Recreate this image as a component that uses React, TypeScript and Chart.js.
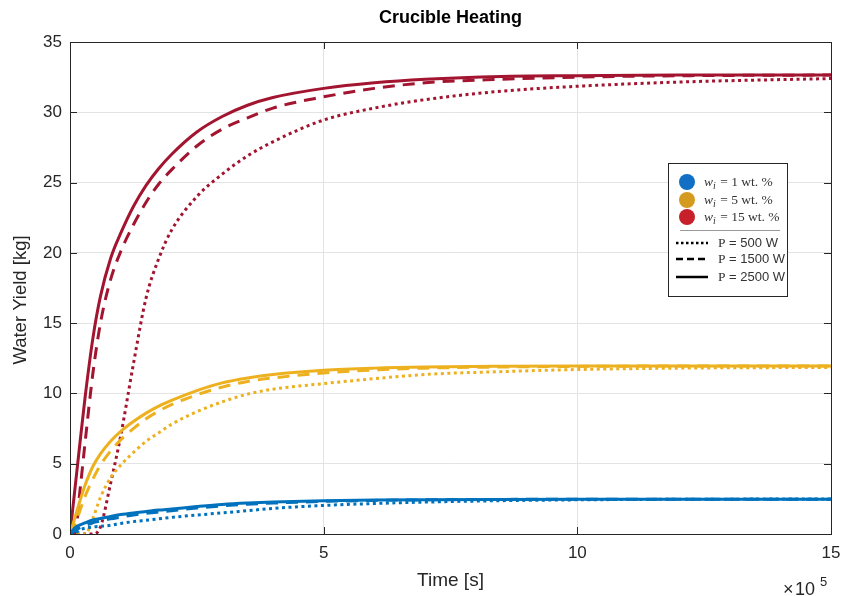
import React, { useEffect, useRef } from "react";
import { Chart, registerables } from "chart.js";

Chart.register(...registerables);

// Time in seconds
const TIME_S = [0, 10000, 20000, 30000, 45000, 60000, 80000, 100000, 125000, 150000, 175000, 200000, 250000, 300000, 350000, 400000, 500000, 600000, 700000, 850000, 1000000, 1200000, 1500000];

// Water yield [kg], 15 wt.%
const RED_2500 = [0, 3.3, 6.6, 9.8, 13.9, 16.9, 19.6, 21.4, 23.3, 24.8, 26.0, 27.0, 28.6, 29.7, 30.5, 31.05, 31.7, 32.1, 32.35, 32.55, 32.6, 32.65, 32.65];
const RED_1500 = [0, 0.1, 3.2, 6.6, 11.4, 15.0, 18.1, 20.1, 22.0, 23.6, 24.9, 25.9, 27.6, 28.8, 29.6, 30.3, 31.1, 31.7, 32.1, 32.35, 32.5, 32.6, 32.65];
const RED_500 = [0, 0, 0, 0, 0, 0.5, 3.6, 7.0, 12.1, 16.8, 19.6, 21.6, 24.0, 25.6, 26.9, 27.9, 29.45, 30.3, 30.9, 31.5, 31.85, 32.15, 32.4];

// 5 wt.%
const YEL_2500 = [0, 1.2, 2.4, 3.5, 4.8, 5.7, 6.6, 7.3, 8.0, 8.6, 9.1, 9.5, 10.2, 10.75, 11.1, 11.35, 11.65, 11.8, 11.88, 11.93, 11.95, 11.95, 11.95];
const YEL_1500 = [0, 0.7, 1.7, 2.7, 3.9, 4.9, 5.9, 6.7, 7.5, 8.2, 8.75, 9.2, 9.9, 10.45, 10.85, 11.1, 11.45, 11.67, 11.8, 11.88, 11.92, 11.95, 11.95];
const YEL_500 = [0, 0, 0, 0, 1.1, 2.6, 4.0, 4.9, 5.8, 6.6, 7.2, 7.8, 8.7, 9.4, 9.95, 10.3, 10.7, 11.05, 11.35, 11.55, 11.7, 11.8, 11.85];

// 1 wt.%
const BLU_2500 = [0, 0.45, 0.65, 0.8, 1.0, 1.1, 1.25, 1.38, 1.5, 1.6, 1.7, 1.78, 1.95, 2.1, 2.2, 2.27, 2.36, 2.41, 2.44, 2.46, 2.47, 2.48, 2.48];
const BLU_1500 = [0, 0.25, 0.45, 0.6, 0.8, 0.92, 1.08, 1.2, 1.35, 1.47, 1.57, 1.66, 1.85, 2.0, 2.12, 2.2, 2.32, 2.39, 2.43, 2.46, 2.47, 2.48, 2.48];
const BLU_500 = [0, 0.05, 0.3, 0.42, 0.5, 0.55, 0.62, 0.75, 0.88, 0.98, 1.08, 1.18, 1.35, 1.5, 1.66, 1.82, 2.03, 2.17, 2.27, 2.37, 2.43, 2.47, 2.49];

const X_TICKS = [0, 500000, 1000000, 1500000];
const Y_TICKS = [0, 5, 10, 15, 20, 25, 30, 35];

const TITLE = "Crucible Heating";
const X_TITLE = "Time [s]";
const Y_TITLE = "Water Yield [kg]";
const LEGEND_W = ["1", "5", "15"];
const LEGEND_P = ["500", "1500", "2500"];

const RED = "#A2142F";
const YEL = "#EDB120";
const BLU = "#0072BD";
const DOT = [3, 3.5];
const DASH = [12, 8];

const SANS = "'Liberation Sans', Arial, sans-serif";
const SERIF = "'Liberation Serif', 'Times New Roman', serif";

function ds(label: string, vals: number[], color: string, dash: number[]) {
  return {
    label,
    data: TIME_S.map((t, i) => ({ x: t, y: vals[i] })),
    borderColor: color,
    backgroundColor: color,
    borderWidth: 3,
    borderDash: dash,
    borderCapStyle: "butt" as const,
    pointRadius: 0,
    fill: false,
    cubicInterpolationMode: "monotone" as const,
  };
}

const decorPlugin = {
  id: "decor",
  afterDraw(chart: any) {
    const ctx = chart.ctx as CanvasRenderingContext2D;
    const a = chart.chartArea;
    const xs = chart.scales.x;
    const ys = chart.scales.y;
    ctx.save();
    // frame
    ctx.strokeStyle = "#262626";
    ctx.lineWidth = 1;
    ctx.setLineDash([]);
    ctx.strokeRect(Math.round(a.left) + 0.5, Math.round(a.top) + 0.5, Math.round(a.right - a.left), Math.round(a.bottom - a.top));
    // inward ticks
    const tl = 7;
    ctx.beginPath();
    X_TICKS.forEach((v) => {
      const px = Math.round(xs.getPixelForValue(v)) + 0.5;
      ctx.moveTo(px, a.bottom);
      ctx.lineTo(px, a.bottom - tl);
      ctx.moveTo(px, a.top);
      ctx.lineTo(px, a.top + tl);
    });
    Y_TICKS.forEach((v) => {
      const py = Math.round(ys.getPixelForValue(v)) + 0.5;
      ctx.moveTo(a.left, py);
      ctx.lineTo(a.left + tl, py);
      ctx.moveTo(a.right, py);
      ctx.lineTo(a.right - tl, py);
    });
    ctx.stroke();

    const cx = (a.left + a.right) / 2;
    ctx.fillStyle = "#000";
    ctx.textAlign = "center";
    ctx.textBaseline = "middle";
    ctx.font = `bold 18px ${SANS}`;
    ctx.fillText(TITLE, cx, 18);

    ctx.fillStyle = "#262626";
    ctx.font = `19px ${SANS}`;
    ctx.fillText(X_TITLE, cx, 581);
    ctx.save();
    ctx.translate(21, 300);
    ctx.rotate(-Math.PI / 2);
    ctx.font = `18.5px ${SANS}`;
    ctx.fillText(Y_TITLE, 0, 0);
    ctx.restore();

    // exponent
    ctx.textAlign = "left";
    ctx.font = `18px ${SANS}`;
    ctx.fillText("\u00d7", 783, 590);
    ctx.fillText("10", 795, 590);
    ctx.font = `13px ${SANS}`;
    ctx.fillText("5", 820, 582);

    // legend
    const lx = 668.5, ly = 163.5, lw = 119, lh = 133;
    ctx.fillStyle = "#fff";
    ctx.fillRect(lx, ly, lw, lh);
    ctx.strokeStyle = "#262626";
    ctx.lineWidth = 1;
    ctx.strokeRect(lx, ly, lw, lh);
    const cols = ["#1170C4", "#D49B20", "#C8202B"];
    const rowsY = [182, 200, 217];
    rowsY.forEach((y, i) => {
      ctx.fillStyle = cols[i];
      ctx.beginPath();
      ctx.arc(687, y, 8, 0, Math.PI * 2);
      ctx.fill();
      ctx.fillStyle = "#333";
      ctx.textAlign = "left";
      ctx.textBaseline = "middle";
      let x = 704;
      ctx.font = `italic 13.5px ${SERIF}`;
      ctx.fillText("w", x, y);
      x += ctx.measureText("w").width;
      ctx.font = `italic 10px ${SERIF}`;
      ctx.fillText("i", x, y + 4);
      x += ctx.measureText("i").width + 1;
      ctx.font = `13.5px ${SERIF}`;
      ctx.fillText(` = ${LEGEND_W[i]} wt. %`, x, y);
    });
    ctx.strokeStyle = "#999";
    ctx.beginPath();
    ctx.moveTo(680, 230.5);
    ctx.lineTo(780, 230.5);
    ctx.stroke();
    const pY = [243, 259, 277];
    const dashes = [[2.5, 2.5], [7, 4], []];
    pY.forEach((y, i) => {
      ctx.strokeStyle = "#000";
      ctx.lineWidth = 2.5;
      ctx.setLineDash(dashes[i]);
      ctx.beginPath();
      ctx.moveTo(676, y);
      ctx.lineTo(708, y);
      ctx.stroke();
      ctx.setLineDash([]);
      ctx.fillStyle = "#333";
      let x = 718;
      ctx.font = `13.5px ${SERIF}`;
      ctx.fillText("P", x, y);
      x += ctx.measureText("P").width;
      ctx.font = `13px ${SANS}`;
      ctx.fillText(` = ${LEGEND_P[i]} W`, x, y);
    });
    ctx.restore();
  },
};

export default function App() {
  const ref = useRef<HTMLCanvasElement>(null);
  useEffect(() => {
    document.body.style.margin = "0";
    const chart = new Chart(ref.current!, {
      type: "line",
      data: {
        datasets: [
          ds("w1 P500", BLU_500, BLU, DOT),
          ds("w1 P1500", BLU_1500, BLU, DASH),
          ds("w1 P2500", BLU_2500, BLU, []),
          ds("w5 P500", YEL_500, YEL, DOT),
          ds("w5 P1500", YEL_1500, YEL, DASH),
          ds("w5 P2500", YEL_2500, YEL, []),
          ds("w15 P500", RED_500, RED, DOT),
          ds("w15 P1500", RED_1500, RED, DASH),
          ds("w15 P2500", RED_2500, RED, []),
        ],
      },
      options: {
        responsive: false,
        animation: false,
        layout: { padding: { top: 42, right: 11, left: 0, bottom: 0 } },
        plugins: { legend: { display: false }, title: { display: false }, tooltip: { enabled: false } },
        scales: {
          x: {
            type: "linear",
            min: 0,
            max: 1500000,
            afterFit: (s: any) => { s.height = 62; s.paddingLeft = 0; s.paddingRight = 0; },
            afterBuildTicks: (s: any) => { s.ticks = X_TICKS.map((v) => ({ value: v })); },
            ticks: {
              callback: (v: any) => String(Number(v) / 1e5),
              font: { family: SANS, size: 17 },
              color: "#262626",
              padding: 9,
              maxRotation: 0,
            },
            grid: { color: "#e3e3e3", lineWidth: 1, drawTicks: false },
            border: { display: false },
          },
          y: {
            type: "linear",
            min: 0,
            max: 35,
            afterFit: (s: any) => { s.width = 70; s.paddingTop = 0; s.paddingBottom = 0; },
            afterBuildTicks: (s: any) => { s.ticks = Y_TICKS.map((v) => ({ value: v })); },
            ticks: {
              font: { family: SANS, size: 17 },
              color: "#262626",
              padding: 8,
            },
            grid: { color: "#e3e3e3", lineWidth: 1, drawTicks: false },
            border: { display: false },
          },
        },
      },
      plugins: [decorPlugin],
    });
    return () => chart.destroy();
  }, []);
  return (
    <div style={{ position: "absolute", left: 0, top: 0, width: 842, height: 596, background: "#fff" }}>
      <canvas ref={ref} width={842} height={596} style={{ width: 842, height: 596, display: "block" }} />
    </div>
  );
}
